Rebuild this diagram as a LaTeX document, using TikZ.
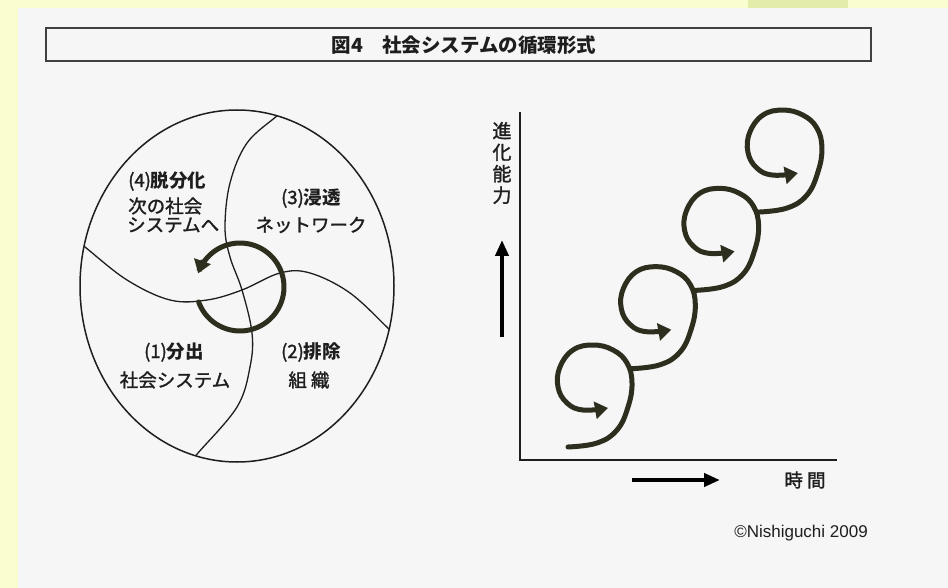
\documentclass[tikz,border=0pt]{standalone}
\usepackage{fontspec}
\newfontfamily\jp{Noto Sans CJK JP}[UprightFeatures={FakeBold=1.5}]
\newfontfamily\lsans{Liberation Sans}
\usetikzlibrary{arrows.meta}
\definecolor{bgyellow}{RGB}{250,254,206}
\definecolor{panel}{RGB}{246,246,246}
\definecolor{patch}{RGB}{228,236,170}
\definecolor{loopcol}{RGB}{46,46,30}
\definecolor{ink}{RGB}{30,30,30}

\tikzset{
  lbl/.style={font=\jp\fontsize{18.5}{20}\selectfont, text=ink, inner sep=0pt},
  loopline/.style={line width=5pt, draw=loopcol, line cap=round,
    -{Triangle[length=13pt,width=17pt]}},
  axis/.style={line width=1.3pt, draw=ink},
  bigarrow/.style={line width=4pt, draw=black, -{Triangle[length=16pt,width=13pt]}},
  thinline/.style={line width=1.3pt, draw=ink},
}

\begin{document}
\begin{tikzpicture}[x=1pt,y=-1pt]
% background
\fill[bgyellow] (0,0) rectangle (948,588);
\fill[patch] (748,0) rectangle (848,9);
\fill[panel] (18,8) rectangle (948,588);

% title
\draw[line width=1.6pt, draw=ink!85] (46,28) rectangle (871,61);
\node[lbl, font=\jp\bfseries\fontsize{19.5}{21}\selectfont] (title) at (464,45) {図4　社会システムの循環形式};

% left: the circle
\def\cx{237}
\def\cy{286}
\coordinate (C) at (\cx,\cy);
\begin{scope}
\clip (C) ellipse [x radius=157, y radius=176];
\draw[thinline] plot[smooth, tension=0.6] coordinates {(293,101) (278,115) (247,143) (230,183) (225,227) (230,257) (242,290) (252,333) (250,367) (237,407) (198,453) (185,468)};
\draw[thinline] plot[smooth, tension=0.6] coordinates {(70,235) (85,247) (127,280) (170,300) (207,300) (242,290) (280,273) (310,273) (350,293) (390,330) (405,344)};
\end{scope}
\draw[line width=1.5pt, ink] (C) ellipse [x radius=157, y radius=176];

% cycle arrow
\draw[loopline] plot[domain=160:-162, samples=70, smooth] ({\cx+3+44*cos(\x)},{\cy+1+44*sin(\x)});

\node[lbl, anchor=west] (l4a) at (128,181) {(4)\textbf{脱分化}};
\node[lbl, anchor=west] (l4b) at (128,206) {次の社会};
\node[lbl, anchor=west] (l4c) at (127,225) {システムへ};
\node[lbl] (l3a) at (311,198) {(3)\textbf{浸透}};
\node[lbl] (l3b) at (311,225) {ネットワーク};
\node[lbl] (l1a) at (174,352) {(1)\textbf{分出}};
\node[lbl] (l1b) at (175,380) {社会システム};
\node[lbl] (l2a) at (311,352) {(2)\textbf{排除}};
\node[lbl] (l2b) at (309,380) {組 織};

% right: axes
\coordinate (O) at (520,460);
\coordinate (ytop) at (520,112);
\coordinate (xend) at (837,460);
\draw[axis] (ytop) -- (O) -- (xend);

\node[lbl, align=center, font=\jp\fontsize{19}{21.5}\selectfont] (ylab) at (502,163) {進\\化\\能\\力};
\coordinate (ua0) at (502,337);
\coordinate (ua1) at (502,240);
\draw[bigarrow] (ua0) -- (ua1);
\coordinate (ra0) at (632,480);
\coordinate (ra1) at (720,480);
\draw[bigarrow] (ra0) -- (ra1);
\node[lbl] (xlab) at (805,480) {時 間};

% spirals
\foreach \i in {0,...,3}{
  \draw[loopline, shift={(\i*63.3,-\i*78.3)}] plot[smooth, tension=0.7] coordinates {(568,447) (597,443) (617,430) (628,407) (632,383) (627,363) (613,350) (593,345) (573,350) (560,367) (558,387) (567,403) (583,410) (608,408)};
}

\node[font=\lsans\fontsize{17}{20}\selectfont, text=ink, inner sep=0pt] (copy) at (801,533) {©Nishiguchi 2009};
\end{tikzpicture}
\end{document}
